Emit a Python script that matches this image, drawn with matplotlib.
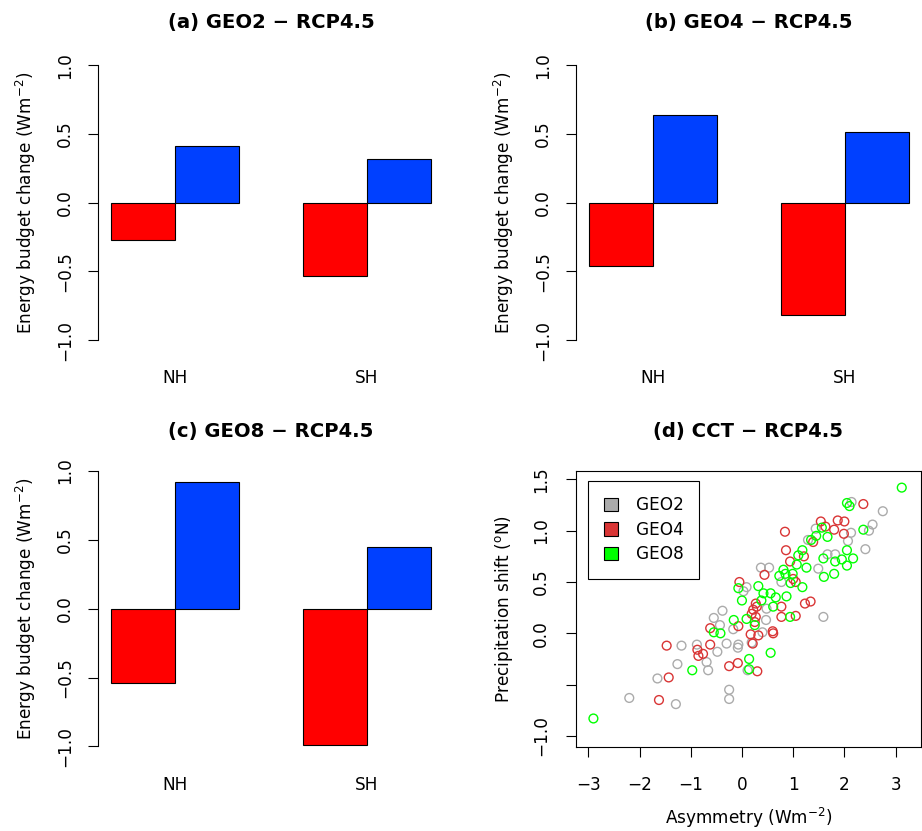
import matplotlib
matplotlib.use('Agg')
import matplotlib.pyplot as plt
from matplotlib.patches import Patch

plt.rcParams['font.family'] = ['DejaVu Sans']
plt.rcParams['mathtext.fontset'] = 'dejavusans'

# bar panels: NH / SH energy budget change
regions = ['NH', 'SH']
titles = ['(a) GEO2 − RCP4.5', '(b) GEO4 − RCP4.5', '(c) GEO8 − RCP4.5']
red_vals = [[-0.27, -0.53], [-0.46, -0.815], [-0.54, -0.99]]
blue_vals = [[0.41, 0.315], [0.635, 0.515], [0.92, 0.45]]

# scatter panel: asymmetry vs precipitation shift
geo2_x = [2.14, 2.75, 2.55, 2.48, 2.13, 2.07, 2.41, 1.44, 1.29, 1.67, 1.82, 1.49,
          0.37, 0.53, 0.77, 0.09, 0.03, -0.38, -0.55, -0.43, -0.17, 0.47, 0.48,
          0.40, 0.19, 1.59, -0.30, -0.07, -0.08, -0.48, -0.69, -0.66, -0.25,
          -0.25, 0.11, -0.88, -1.18, -1.26, -1.65, -2.20, -1.29]
geo2_y = [1.28, 1.19, 1.06, 1.00, 0.98, 0.90, 0.82, 1.02, 0.91, 0.77, 0.77, 0.63,
          0.64, 0.64, 0.50, 0.45, 0.41, 0.22, 0.15, 0.08, 0.04, 0.13, 0.24,
          0.01, -0.09, 0.16, -0.10, -0.11, -0.14, -0.18, -0.28, -0.36, -0.55,
          -0.64, -0.36, -0.11, -0.12, -0.30, -0.44, -0.63, -0.69]
geo4_x = [2.37, 0.84, 1.54, 1.87, 2.00, 1.80, 1.63, 1.99, 1.39, 0.86, 0.94, 1.21,
          0.44, -0.05, 1.05, 1.00, 0.27, 0.29, 0.22, 0.19, 0.27, 0.25, 0.17, 0.32,
          0.21, 0.60, 0.61, 0.77, 0.77, 1.05, 1.23, 1.34, -0.62, -0.07, -0.62,
          -0.76, -0.08, -0.25, 0.30, -1.47, -0.87, -0.85, -1.43, -1.62]
geo4_y = [1.26, 0.99, 1.09, 1.10, 1.09, 1.01, 1.04, 0.97, 0.89, 0.81, 0.70, 0.75,
          0.57, 0.50, 0.50, 0.53, 0.29, 0.26, 0.23, 0.19, 0.16, 0.11, -0.01, -0.02,
          -0.10, 0.02, 0.00, 0.26, 0.16, 0.17, 0.29, 0.31, 0.05, 0.07, -0.11,
          -0.20, -0.29, -0.32, -0.37, -0.12, -0.16, -0.22, -0.43, -0.65]
geo8_x = [3.12, 2.05, 2.10, 2.37, 1.56, 1.45, 1.67, 1.35, 2.05, 1.18, 1.10, 1.07,
          1.26, 0.81, 0.85, 0.99, 0.73, 0.95, 1.18, 0.32, -0.07, 0.42, 0.56, 0.66,
          0.87, 0.38, 0.00, 0.61, -0.16, 0.09, 0.25, 0.94, 1.60, 1.59, 1.80, 1.82,
          1.95, 2.17, 2.05, -0.55, -0.42, 0.56, 0.14, 0.14, -0.97, -2.90]
geo8_y = [1.42, 1.27, 1.24, 1.01, 1.03, 0.95, 0.94, 0.91, 0.81, 0.81, 0.76, 0.67,
          0.64, 0.62, 0.58, 0.58, 0.56, 0.49, 0.45, 0.46, 0.44, 0.39, 0.39, 0.35,
          0.36, 0.32, 0.32, 0.26, 0.13, 0.14, 0.08, 0.16, 0.55, 0.73, 0.58, 0.70,
          0.72, 0.73, 0.66, 0.01, 0.00, -0.19, -0.25, -0.35, -0.36, -0.83]

W, H = 922, 831
fig = plt.figure(figsize=(W / 100, H / 100), dpi=100)


def px_axes(left, top, right, bottom):
    return fig.add_axes([left / W, 1 - bottom / H, (right - left) / W, (bottom - top) / H])


FS = 12.2
TFS = 14.1
LW = 0.8
RED = '#FF0000'
BLUE = '#0040FF'
C_GEO2 = '#ABABAB'
C_GEO4 = '#D93535'
C_GEO8 = '#00FF00'

bar_boxes = [(98.3, 54.1, 443.8, 351.3), (575.9, 54.1, 921.4, 351.3),
             (98.3, 460.0, 443.8, 757.4)]
title_y = [27.7, 27.7, 437.3]

for i in range(3):
    left, top, right, bottom = bar_boxes[i]
    ax = px_axes(left, top, right, bottom)
    xr = [1.5 + 3 * k for k in range(len(regions))]
    xb = [2.5 + 3 * k for k in range(len(regions))]
    ax.bar(xr, red_vals[i], width=1.0, color=RED, edgecolor='black', linewidth=LW)
    ax.bar(xb, blue_vals[i], width=1.0, color=BLUE, edgecolor='black', linewidth=LW)
    ax.set_xlim(0.8, 6.2)
    ax.set_ylim(-1.08, 1.08)
    for s in ['top', 'right', 'bottom']:
        ax.spines[s].set_visible(False)
    ax.spines['left'].set_bounds(-1, 1)
    ax.spines['left'].set_linewidth(LW)
    ax.set_yticks([-1.0, -0.5, 0.0, 0.5, 1.0])
    ax.set_yticklabels(['−1.0', '−0.5', '0.0', '0.5', '1.0'], rotation=90,
                       va='center', fontsize=FS)
    ax.tick_params(axis='y', length=7.5, width=LW, pad=9.8)
    ax.set_xticks([2.0 + 3 * k for k in range(len(regions))])
    ax.set_xticklabels(regions, fontsize=FS)
    ax.tick_params(axis='x', length=0, pad=13.1)
    ax.set_ylabel(r'Energy budget change (Wm$^{-2}$)', fontsize=FS)
    ax.yaxis.set_label_coords(-60.0 / (right - left), 0.5)
    fig.text((left + right) / 2 / W, 1 - title_y[i] / H, titles[i], ha='center',
             va='baseline', fontsize=TFS, fontweight='bold')

# scatter panel
sl, st, sr, sb = 576.0, 471.0, 920.7, 746.7
ax = px_axes(sl, st, sr, sb)
ax.scatter(geo2_x, geo2_y, s=40, facecolors='none', edgecolors=C_GEO2, linewidths=1.0)
ax.scatter(geo4_x, geo4_y, s=40, facecolors='none', edgecolors=C_GEO4, linewidths=1.0)
ax.scatter(geo8_x, geo8_y, s=40, facecolors='none', edgecolors=C_GEO8, linewidths=1.0)
ax.set_xlim(-3.24, 3.49)
ax.set_ylim(-1.105, 1.582)
for s in ax.spines.values():
    s.set_linewidth(LW)
ax.set_xticks([-3, -2, -1, 0, 1, 2, 3])
ax.set_xticklabels(['−3', '−2', '−1', '0', '1', '2', '3'], fontsize=FS)
ax.set_yticks([-1.0, -0.5, 0.0, 0.5, 1.0, 1.5])
ax.set_yticklabels(['−1.0', '', '0.0', '0.5', '1.0', '1.5'], rotation=90,
                   va='center', fontsize=FS)
ax.tick_params(axis='both', length=7.5, width=LW)
ax.tick_params(axis='y', pad=11.2)
ax.tick_params(axis='x', pad=13.8)
ax.set_xlabel(r'Asymmetry (Wm$^{-2}$)', fontsize=FS)
ax.xaxis.set_label_coords(0.5, -59.0 / (sb - st))
ax.set_ylabel(r'Precipitation shift ($^{\mathrm{o}}$N)', fontsize=FS)
ax.yaxis.set_label_coords(-61.0 / (sr - sl), 0.5)
fig.text((sl + sr) / 2 / W, 1 - 437.3 / H, '(d) CCT − RCP4.5', ha='center',
         va='baseline', fontsize=TFS, fontweight='bold')

handles = [Patch(facecolor=C_GEO2, edgecolor='black', linewidth=LW, label='GEO2'),
           Patch(facecolor=C_GEO4, edgecolor='black', linewidth=LW, label='GEO4'),
           Patch(facecolor=C_GEO8, edgecolor='black', linewidth=LW, label='GEO8')]
leg = ax.legend(handles=handles, loc='upper left',
                bbox_to_anchor=(12.3 / (sr - sl), 1 - 10.0 / (sb - st)),
                fontsize=FS, fancybox=False, framealpha=1, edgecolor='black',
                handlelength=0.83, handleheight=0.83, handletextpad=1.07,
                labelspacing=0.39, borderpad=0.9, borderaxespad=0)
leg.get_frame().set_linewidth(LW)

fig.savefig('out.png', dpi=100)
